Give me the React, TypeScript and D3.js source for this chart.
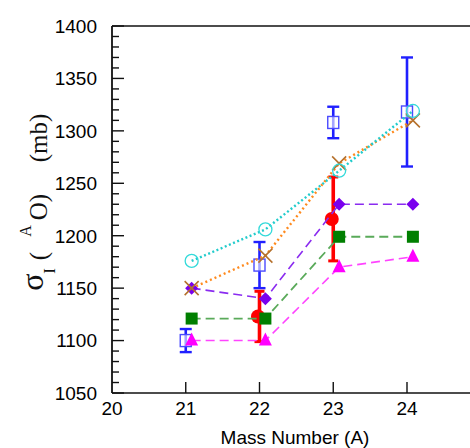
import * as d3 from "d3";
import React from "react";

// mass numbers (A) and the calculated cross sections, mb
const massNumbers = [21, 22, 23, 24];
const circleSeries = [1176, 1206, 1262, 1319];
const crossSeries = [1150, 1181, 1269, 1310];
const diamondSeries = [1150, 1140, 1230, 1230];
const squareSeries = [1121, 1121, 1199, 1199];
const triangleSeries = [1100, 1100, 1170, 1180];

// measured values with errors
const blueMass = [21, 22, 23, 24];
const blueValues = [1100, 1172, 1308, 1318];
const blueErrors = [11, 22, 15, 52];
const redMass = [22, 23];
const redValues = [1123, 1216];
const redErrors = [24, 40];

const xTicks = [20, 21, 22, 23, 24];
const yTicks = [1050, 1100, 1150, 1200, 1250, 1300, 1350, 1400];

const W = 470;
const H = 448;
const SHIFT = 0.08; // theory points sit a little right of the tick

const x = d3.scaleLinear().domain([20, 25]).range([112, 480.75]);
const y = d3.scaleLinear().domain([1050, 1400]).range([393, 26]);
const minorTicks = d3.range(1050, 1401, 10);

function lineFor(vals: number[]) {
  return d3
    .line<number>()
    .x((_, i) => x(massNumbers[i] + SHIFT))
    .y((v) => y(v))(vals) as string;
}

function Marker({ kind, cx, cy }: { kind: string; cx: number; cy: number }) {
  if (kind === "circle")
    return <circle cx={cx} cy={cy} r={6.5} fill="none" stroke="#33dada" strokeWidth={1.3} />;
  if (kind === "cross")
    return (
      <path
        d={`M${cx - 7},${cy - 7}L${cx + 7},${cy + 7}M${cx - 7},${cy + 7}L${cx + 7},${cy - 7}`}
        stroke="#b5712d"
        strokeWidth={1.6}
      />
    );
  if (kind === "diamond")
    return <path d={`M${cx},${cy - 6.5}L${cx + 6.5},${cy}L${cx},${cy + 6.5}L${cx - 6.5},${cy}Z`} fill="#7a00ee" />;
  if (kind === "square")
    return <rect x={cx - 6} y={cy - 6} width={12} height={12} fill="#007f00" />;
  return <path d={`M${cx},${cy - 8}L${cx + 6.5},${cy + 5}L${cx - 6.5},${cy + 5}Z`} fill="#ff00ff" />;
}

const series = [
  { vals: triangleSeries, kind: "triangle", color: "#ff44ff", dash: "9,5", width: 1.6 },
  { vals: squareSeries, kind: "square", color: "#5aaa5a", dash: "9,5", width: 1.8 },
  { vals: diamondSeries, kind: "diamond", color: "#8a2bf0", dash: "9,5", width: 1.6 },
  { vals: crossSeries, kind: "cross", color: "#ff8a1e", dash: "2,3", width: 2.4 },
  { vals: circleSeries, kind: "circle", color: "#22cccc", dash: "2,2.5", width: 2.4 },
];

// pieces of the rotated y title: [text, baseline x, centre y, size]
const titleParts: [string, number, number, number][] = [
  ["σ", 43, 282, 32],
  ["I", 55, 271, 17],
  ["(", 47, 256, 25],
  ["A", 31, 231, 16],
  ["O)", 47, 207, 25],
  ["(mb)", 47, 138, 25],
];

export default function App() {
  const font = "'Liberation Sans', Arial, Helvetica, sans-serif";
  return (
    <svg
      width={W}
      height={H}
      style={{ position: "absolute", left: 0, top: 0, background: "#fff" }}
    >
      {/* frame */}
      <line x1={112} x2={W} y1={y(1400)} y2={y(1400)} stroke="#111" strokeWidth={1.6} />
      <line x1={112} x2={W} y1={y(1050)} y2={y(1050)} stroke="#111" strokeWidth={1.6} />
      <line x1={112} x2={112} y1={y(1400)} y2={y(1050)} stroke="#111" strokeWidth={1.8} />

      {minorTicks.map((t) => (
        <line
          key={"m" + t}
          x1={112}
          x2={112 + (t % 50 === 0 ? 12 : 7)}
          y1={y(t)}
          y2={y(t)}
          stroke="#111"
          strokeWidth={1.4}
        />
      ))}
      {yTicks.map((t) => (
        <text key={"yl" + t} x={97} y={y(t)} dy="0.36em" textAnchor="end" fontSize={19} fontFamily={font}>
          {t}
        </text>
      ))}
      {xTicks.map((t) => (
        <g key={"x" + t}>
          {t > 20 && <line x1={x(t)} x2={x(t)} y1={y(1050)} y2={y(1050) - 11} stroke="#111" strokeWidth={1.4} />}
          <text x={x(t)} y={415} textAnchor="middle" fontSize={19} fontFamily={font}>
            {t}
          </text>
        </g>
      ))}
      <text x={295} y={444} textAnchor="middle" fontSize={19} fontFamily={font}>
        Mass Number (A)
      </text>

      {titleParts.map(([t, bx, cy, fs]) => (
        <text
          key={t}
          transform={`translate(${bx},${cy}) rotate(-90)`}
          textAnchor="middle"
          fontSize={fs}
          fontFamily="'Liberation Serif', 'Times New Roman', serif"
          fill="#111"
        >
          {t}
        </text>
      ))}

      {/* measured */}
      {blueMass.map((m, i) => (
        <g key={"b" + m} stroke="#2020ff">
          <line x1={x(m)} x2={x(m)} y1={y(blueValues[i] + blueErrors[i])} y2={y(blueValues[i] - blueErrors[i])} strokeWidth={2.6} />
          <line x1={x(m) - 6} x2={x(m) + 6} y1={y(blueValues[i] + blueErrors[i])} y2={y(blueValues[i] + blueErrors[i])} strokeWidth={2.4} />
          <line x1={x(m) - 6} x2={x(m) + 6} y1={y(blueValues[i] - blueErrors[i])} y2={y(blueValues[i] - blueErrors[i])} strokeWidth={2.4} />
          <rect x={x(m) - 5.5} y={y(blueValues[i]) - 6} width={11} height={12} fill="#fff" fillOpacity={0.6} stroke="#4a4aff" strokeWidth={1.4} />
        </g>
      ))}
      {redMass.map((m, i) => (
        <g key={"r" + m} stroke="#ff0000">
          <line x1={x(m)} x2={x(m)} y1={y(redValues[i] + redErrors[i])} y2={y(redValues[i] - redErrors[i])} strokeWidth={3.6} />
          <line x1={x(m) - 5} x2={x(m) + 5} y1={y(redValues[i] + redErrors[i])} y2={y(redValues[i] + redErrors[i])} strokeWidth={3} />
          <line x1={x(m) - 5} x2={x(m) + 5} y1={y(redValues[i] - redErrors[i])} y2={y(redValues[i] - redErrors[i])} strokeWidth={3} />
          <circle cx={x(m) - 1.5} cy={y(redValues[i])} r={7} fill="#ff0000" stroke="none" />
        </g>
      ))}

      {/* calculated */}
      {series.map((s) => (
        <path key={"l" + s.kind} d={lineFor(s.vals)} fill="none" stroke={s.color} strokeWidth={s.width} strokeDasharray={s.dash} />
      ))}
      {series.map((s) =>
        s.vals.map((v, i) => (
          <Marker key={s.kind + i} kind={s.kind} cx={x(massNumbers[i] + SHIFT)} cy={y(v)} />
        ))
      )}
    </svg>
  );
}
